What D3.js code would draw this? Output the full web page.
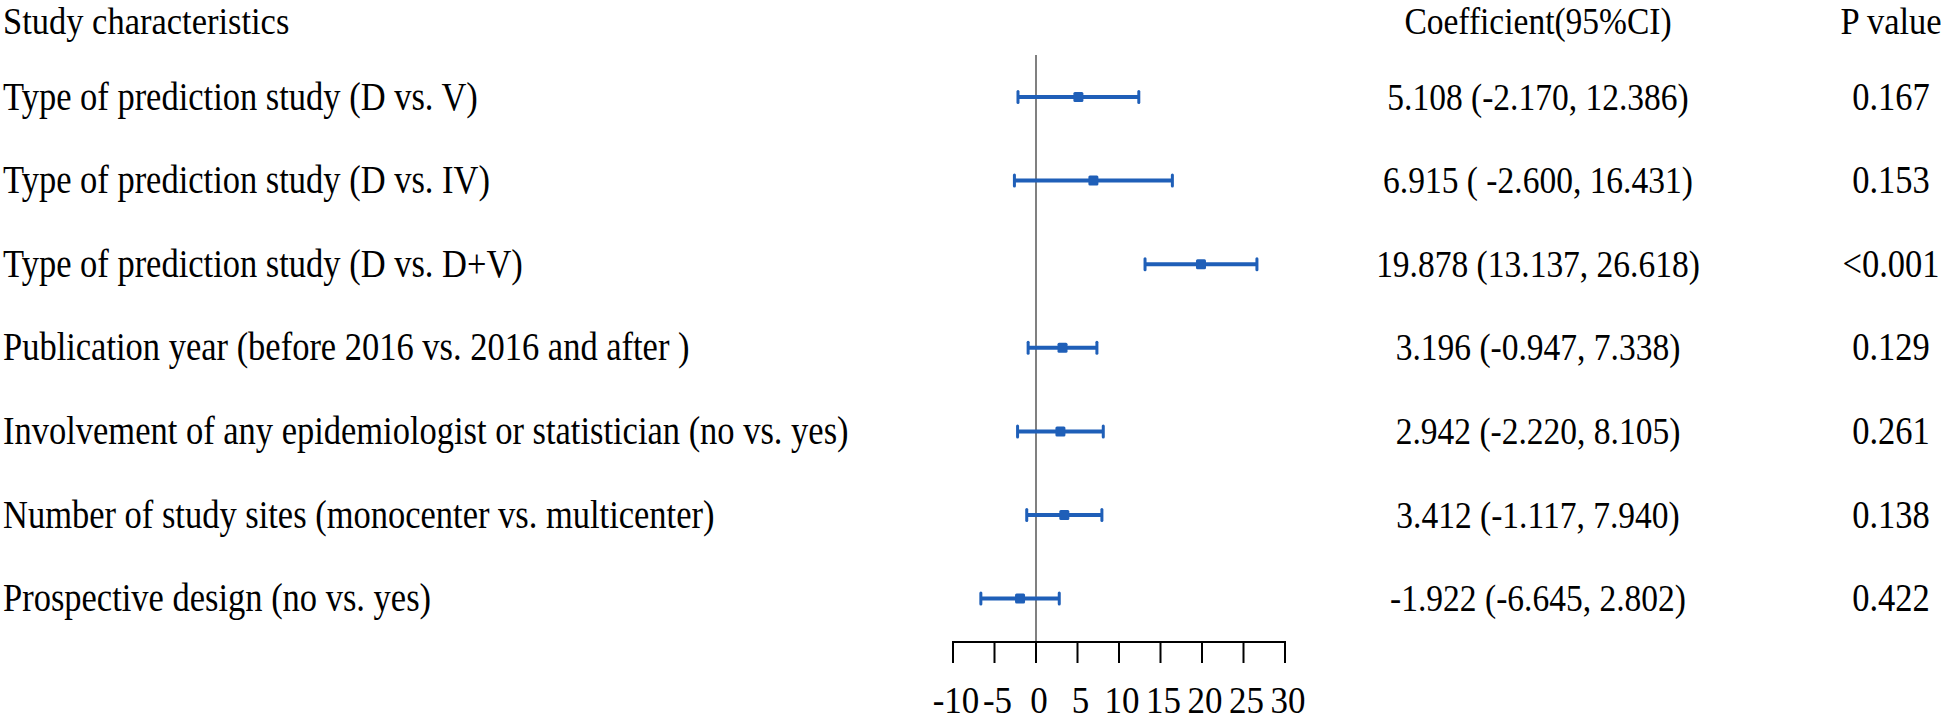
<!DOCTYPE html>
<html>
<head>
<meta charset="utf-8">
<script src="https://cdn.jsdelivr.net/npm/d3@7"></script>
<style>
  html, body { margin: 0; padding: 0; background: #fff; }
  svg { display: block; }
  text { font-family: "Liberation Serif", "Times New Roman", serif; fill: #000; }
</style>
</head>
<body>
<svg id="chart" width="1943" height="722"></svg>
<script>
const headers = ["Study characteristics", "Coefficient(95%CI)", "P value"];
const labels = [
  "Type of prediction study (D vs. V)",
  "Type of prediction study (D vs. IV)",
  "Type of prediction study (D vs. D+V)",
  "Publication year (before 2016 vs. 2016 and after )",
  "Involvement of any epidemiologist or statistician (no vs. yes)",
  "Number of study sites (monocenter vs. multicenter)",
  "Prospective design (no vs. yes)"
];
const coef  = [5.108, 6.915, 19.878, 3.196, 2.942, 3.412, -1.922];
const lower = [-2.170, -2.600, 13.137, -0.947, -2.220, -1.117, -6.645];
const upper = [12.386, 16.431, 26.618, 7.338, 8.105, 7.940, 2.802];
const ciText = [
  "5.108 (-2.170, 12.386)",
  "6.915 ( -2.600, 16.431)",
  "19.878 (13.137, 26.618)",
  "3.196 (-0.947, 7.338)",
  "2.942 (-2.220, 8.105)",
  "3.412 (-1.117, 7.940)",
  "-1.922 (-6.645, 2.802)"
];
const pText = ["0.167", "0.153", "<0.001", "0.129", "0.261", "0.138", "0.422"];
const tickValues = [-10, -5, 0, 5, 10, 15, 20, 25, 30];

const svg = d3.select("#chart");
const blue = "#1f5fb8";

const x = d3.scaleLinear().domain([-10, 30]).range([953, 1285]);
const rows = d3.range(-1, labels.length);
const y = d3.scalePoint().domain(rows).range([13.4, 598.6]);
const axisY = 642;

function txt(g, str, tx, ty, anchor, fs, vs) {
  g.append("text")
    .attr("transform", `translate(${tx},${ty}) scale(1,${vs})`)
    .attr("text-anchor", anchor)
    .attr("font-size", fs)
    .text(str);
}
const baseOff = 12.5;
const ciX = 1538, pX = 1891;

// headers
const hy = 34;
txt(svg, headers[0], 3, hy, "start", 34.5, 1.1);
txt(svg, headers[1], ciX, hy, "middle", 33.5, 1.1);
txt(svg, headers[2], pX, hy, "middle", 34.5, 1.1);

// rows text
labels.forEach((l, i) => {
  txt(svg, l, 3, y(i) + baseOff, "start", 34.5, 1.15);
  txt(svg, ciText[i], ciX, y(i) + baseOff, "middle", 33.5, 1.15);
  txt(svg, pText[i], pX, y(i) + baseOff, "middle", 34.5, 1.15);
});

// zero line
svg.append("line")
  .attr("x1", x(0)).attr("x2", x(0))
  .attr("y1", 55).attr("y2", axisY)
  .attr("stroke", "#808080").attr("stroke-width", 2);

// axis
const axisG = svg.append("g").attr("transform", `translate(0,${axisY})`);
axisG.append("line")
  .attr("x1", x(-10)).attr("x2", x(30))
  .attr("y1", 0).attr("y2", 0)
  .attr("stroke", "#000").attr("stroke-width", 2);
axisG.selectAll("line.tick").data(tickValues).enter().append("line")
  .attr("class", "tick")
  .attr("x1", d => x(d)).attr("x2", d => x(d))
  .attr("y1", -1).attr("y2", 21)
  .attr("stroke", "#000").attr("stroke-width", 2);
tickValues.forEach(d => {
  txt(axisG, String(d), x(d) + 3, 71, "middle", 35, 1.1);
});

// error bars
const g = svg.append("g");
labels.forEach((l, i) => {
  const yy = y(i);
  g.append("line")
    .attr("x1", x(lower[i])).attr("x2", x(upper[i]))
    .attr("y1", yy).attr("y2", yy)
    .attr("stroke", blue).attr("stroke-width", 4);
  [lower[i], upper[i]].forEach(v => {
    g.append("line")
      .attr("x1", x(v)).attr("x2", x(v))
      .attr("y1", yy - 5.5).attr("y2", yy + 5.5)
      .attr("stroke", blue).attr("stroke-width", 3)
      .attr("stroke-linecap", "round");
  });
  g.append("rect")
    .attr("x", x(coef[i]) - 5).attr("y", yy - 5)
    .attr("width", 10).attr("height", 10)
    .attr("rx", 1.5)
    .attr("fill", blue);
});
</script>
</body>
</html>
